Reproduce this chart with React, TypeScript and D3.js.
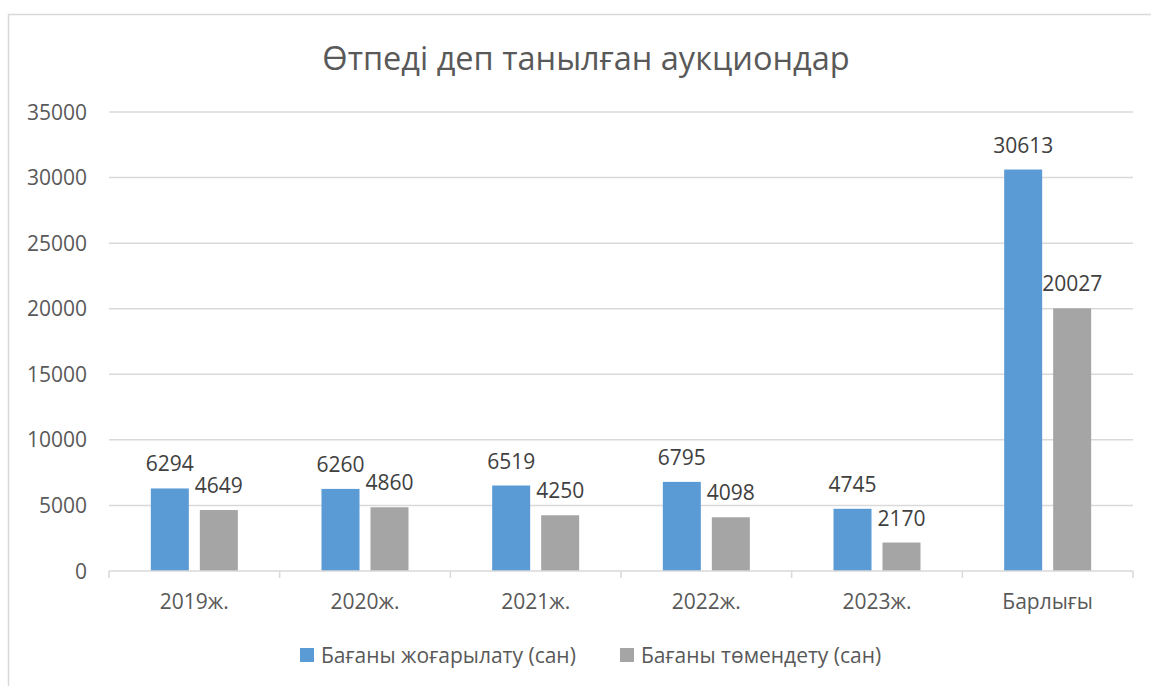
import React, { useEffect, useRef } from 'react';
import * as d3 from 'd3';

const categories = ['2019ж.', '2020ж.', '2021ж.', '2022ж.', '2023ж.', 'Барлығы'];
const seriesNames = ['Бағаны жоғарылату (сан)', 'Бағаны төмендету (сан)'];
const raiseValues = [6294, 6260, 6519, 6795, 4745, 30613];
const lowerValues = [4649, 4860, 4250, 4098, 2170, 20027];
const yTicks = [0, 5000, 10000, 15000, 20000, 25000, 30000, 35000];
const title = 'Өтпеді деп танылған аукциондар';

const colors = ['#5b9bd5', '#a5a5a5'];
const font = "'Open Sans', sans-serif";

const App = () => {
  const ref = useRef<HTMLDivElement>(null);

  useEffect(() => {
    const root = d3.select(ref.current);
    root.selectAll('svg').remove();

    const width = 1151;
    const height = 686;
    const margin = { top: 112, right: 18, bottom: 115, left: 109 };
    const innerW = width - margin.left - margin.right;
    const innerH = height - margin.top - margin.bottom;

    const svg = root
      .append('svg')
      .attr('width', width)
      .attr('height', height)
      .style('position', 'absolute')
      .style('left', 0)
      .style('top', 0)
      .style('font-family', font);

    svg.append('rect').attr('width', width).attr('height', height).attr('fill', '#fff');

    // chart area border
    svg.append('rect')
      .attr('x', 8.5).attr('y', 14.5)
      .attr('width', 1160).attr('height', 700)
      .attr('fill', 'none')
      .attr('stroke', '#d9d9d9')
      .attr('stroke-width', 1.5);

    svg.append('text')
      .attr('x', 586)
      .attr('y', 70)
      .attr('text-anchor', 'middle')
      .attr('font-size', 32.5)
      .attr('fill', '#595959')
      .text(title);

    const g = svg.append('g').attr('transform', `translate(${margin.left},${margin.top})`);

    const x0 = d3.scaleBand().domain(categories).range([0, innerW]).padding(0);
    const groupW = 87;
    const x1 = d3.scaleBand().domain(['0', '1']).range([0, groupW]).paddingInner(0.2245);
    const y = d3.scaleLinear().domain([0, 35000]).range([innerH, 0]);

    // gridlines
    g.selectAll('.grid')
      .data(yTicks.filter(t => t > 0))
      .enter()
      .append('line')
      .attr('x1', 0)
      .attr('x2', innerW)
      .attr('y1', d => y(d))
      .attr('y2', d => y(d))
      .attr('stroke', '#d9d9d9')
      .attr('stroke-width', 1.5);

    // y tick labels
    g.selectAll('.ylab')
      .data(yTicks)
      .enter()
      .append('text')
      .attr('x', -22)
      .attr('y', d => y(d))
      .attr('dy', '0.36em')
      .attr('text-anchor', 'end')
      .attr('font-size', 21)
      .attr('fill', '#595959')
      .text(d => d);

    const rows = categories.map((c, i) => ({ cat: c, vals: [raiseValues[i], lowerValues[i]] }));

    const groups = g.selectAll('.grp')
      .data(rows)
      .enter()
      .append('g')
      .attr('transform', d => `translate(${(x0(d.cat) as number) + (x0.bandwidth() - groupW) / 2},0)`);

    groups.selectAll('rect')
      .data(d => d.vals.map((v, k) => ({ v, k })))
      .enter()
      .append('rect')
      .attr('x', d => x1(String(d.k)) as number)
      .attr('y', d => y(d.v))
      .attr('width', x1.bandwidth())
      .attr('height', d => innerH - y(d.v))
      .attr('fill', d => colors[d.k]);

    groups.selectAll('.lbl')
      .data(d => d.vals.map((v, k) => ({ v, k })))
      .enter()
      .append('text')
      .attr('x', d => (x1(String(d.k)) as number) + x1.bandwidth() / 2)
      .attr('y', d => y(d.v) - 17)
      .attr('text-anchor', 'middle')
      .attr('font-size', 21)
      .attr('fill', '#404040')
      .text(d => d.v);

    // x axis
    const xAxis = g.append('g').attr('transform', `translate(0,${innerH})`);
    xAxis.append('line')
      .attr('x1', 0).attr('x2', innerW)
      .attr('stroke', '#d9d9d9').attr('stroke-width', 1.5);
    xAxis.selectAll('.tick')
      .data(d3.range(categories.length + 1))
      .enter()
      .append('line')
      .attr('x1', i => i * x0.step())
      .attr('x2', i => i * x0.step())
      .attr('y1', 0).attr('y2', 7)
      .attr('stroke', '#d9d9d9').attr('stroke-width', 1.5);
    xAxis.selectAll('.xlab')
      .data(categories)
      .enter()
      .append('text')
      .attr('x', d => (x0(d) as number) + x0.bandwidth() / 2)
      .attr('y', 38)
      .attr('text-anchor', 'middle')
      .attr('font-size', 21)
      .attr('fill', '#595959')
      .text(d => d);

    // legend
    const legendX = [300, 620];
    const legend = svg.selectAll('.leg')
      .data(seriesNames)
      .enter()
      .append('g')
      .attr('transform', (d, i) => `translate(${legendX[i]},648)`);
    legend.append('rect').attr('width', 14).attr('height', 14).attr('fill', (d, i) => colors[i]);
    legend.append('text')
      .attr('x', 21)
      .attr('y', 7)
      .attr('dy', '0.36em')
      .attr('font-size', 21)
      .attr('fill', '#595959')
      .text(d => d);
  }, []);

  return <div ref={ref}></div>;
};

export default App;
